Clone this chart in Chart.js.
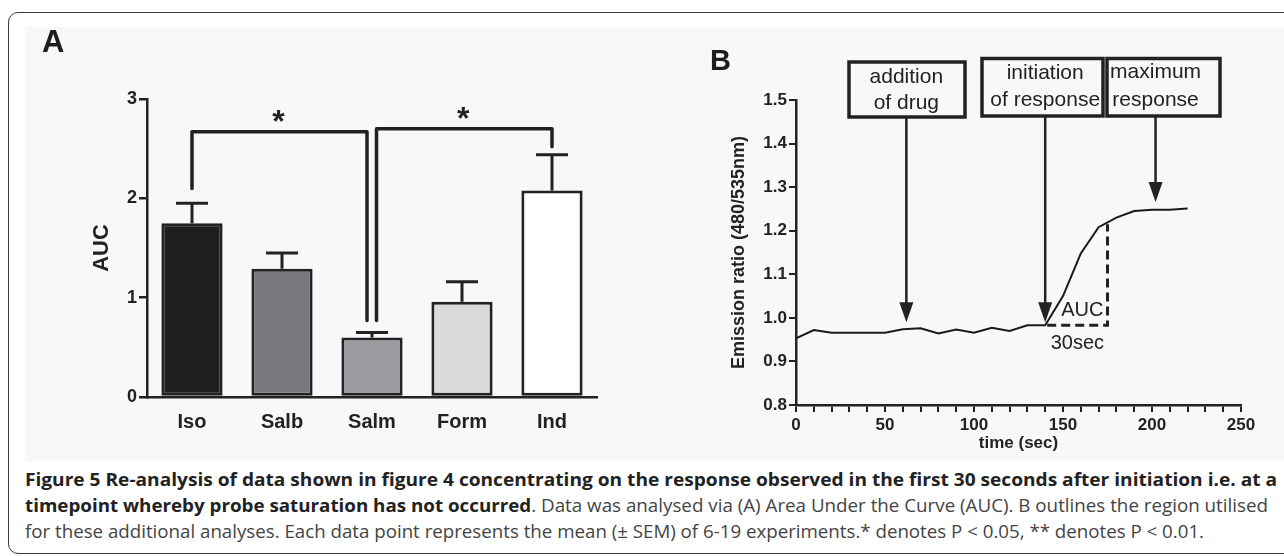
<!DOCTYPE html>
<html>
<head>
<meta charset="utf-8">
<title>Figure 5</title>
<script src="https://cdn.jsdelivr.net/npm/chart.js@4.4.1/dist/chart.umd.min.js"></script>
<style>
	html, body { margin: 0; padding: 0; background: #fff; }
	#wrap { position: relative; width: 1284px; height: 556px; overflow: hidden; font-family: 'Liberation Sans', Arial, sans-serif; }
	#frame { position: absolute; left: 8px; top: 12px; width: 1320px; height: 542px; border: 1.5px solid #3a3a3a; border-radius: 10px; box-sizing: border-box; }
	#panel { position: absolute; left: 25px; top: 27px; width: 1259px; height: 434px; background: #f7f8fa; }
	#chartA { position: absolute; left: 0; top: 0; }
	#chartB { position: absolute; left: 640px; top: 0; }
	.tag { position: absolute; font-weight: bold; color: #1e1e1e; line-height: 1; }
	.cap { position: absolute; left: 25px; white-space: nowrap; font-family: 'Open Sans', 'Noto Sans', sans-serif; font-size: 18px; line-height: 18px; color: #444; transform-origin: 0 0; }
	.cap b { color: #222; font-weight: 700; }
</style>
</head>
<body>
<div id="wrap">
	<div id="frame"></div>
	<div id="panel"></div>
	<canvas id="chartA" width="640" height="460"></canvas>
	<canvas id="chartB" width="644" height="460"></canvas>
	<div class="tag" style="left:42px; top:26px; font-size:31px;">A</div>
	<div class="tag" style="left:710px; top:46px; font-size:29px;">B</div>
	<div class="cap" id="cap1" data-w="1252" style="top:470px;"><b>Figure 5 Re-analysis of data shown in figure 4 concentrating on the response observed in the first 30 seconds after initiation i.e. at a</b></div>
	<div class="cap" id="cap2" data-w="1243" style="top:496px;"><b>timepoint whereby probe saturation has not occurred</b>. Data was analysed via (A) Area Under the Curve (AUC). B outlines the region utilised</div>
	<div class="cap" id="cap3" data-w="1179" style="top:522px;">for these additional analyses. Each data point represents the mean (± SEM) of 6-19 experiments.* denotes P &lt; 0.05, ** denotes P &lt; 0.01.</div>
</div>

<script>
// Panel A - area under the curve per agonist
var categories = ['Iso', 'Salb', 'Salm', 'Form', 'Ind'];
var aucMean = [1.75, 1.29, 0.60, 0.96, 2.08];
var aucSem = [0.20, 0.16, 0.05, 0.20, 0.36];
var barColors = ['#1f1f1f', '#77787b', '#9a9b9e', '#d9dadb', '#ffffff'];
var aucTicks = [0, 1, 2, 3];

// significance brackets (category index, levels in AUC units)
var sigFrom = [0, 2];
var sigTo = [2, 4];
var sigLevel = [2.67, 2.70];
var sigStartLeg = [2.10, 0.77];
var sigEndLeg = [0.77, 2.52];

// Panel B - example trace
var timeSec = [0, 10, 20, 30, 40, 50, 60, 70, 80, 90, 100, 110, 120, 130, 140, 150, 160, 170, 180, 190, 200, 210, 220];
var emissionRatio = [0.953, 0.972, 0.966, 0.966, 0.966, 0.966, 0.974, 0.976, 0.964, 0.973, 0.966, 0.977, 0.970, 0.983, 0.983, 1.050, 1.148, 1.208, 1.230, 1.245, 1.248, 1.248, 1.251];
var ratioTicks = [0.8, 0.9, 1.0, 1.1, 1.2, 1.3, 1.4, 1.5];
var timeTicks = [0, 50, 100, 150, 200, 250];

var eventLabels = [['addition', 'of drug'], ['initiation', 'of response'], ['maximum', 'response']];
var eventTime = [62, 140, 202];
var eventTip = [0.990, 0.990, 1.266];
var aucWindow = [140, 175];
var aucBase = 0.983;
var aucTop = 1.215;

var FONT = "'Liberation Sans', Arial, sans-serif";
var INK = '#222';

Chart.defaults.font.family = FONT;
Chart.defaults.color = INK;
Chart.defaults.animation = false;
Chart.defaults.plugins.legend.display = false;
Chart.defaults.plugins.tooltip.enabled = false;

var errorBarPlugin = {
	id: 'errorBars',
	afterDatasetsDraw: function(chart) {
		var ctx = chart.ctx, y = chart.scales.y, x = chart.scales.x;
		var meta = chart.getDatasetMeta(0);
		ctx.save();
		ctx.strokeStyle = INK;
		ctx.lineWidth = 3;
		meta.data.forEach(function(bar, i) {
			var top = y.getPixelForValue(aucMean[i] + aucSem[i]);
			ctx.beginPath();
			ctx.moveTo(bar.x, bar.y);
			ctx.lineTo(bar.x, top);
			ctx.moveTo(bar.x - 16, top);
			ctx.lineTo(bar.x + 16, top);
			ctx.stroke();
		});

		// brackets
		ctx.lineWidth = 3.5;
		ctx.lineJoin = 'round';
		ctx.lineCap = 'round';
		for (var k = 0; k < sigFrom.length; k++) {
			var x1 = x.getPixelForValue(sigFrom[k]) + (sigFrom[k] === 2 ? 4.5 : 0);
			var x2 = x.getPixelForValue(sigTo[k]) - (sigTo[k] === 2 ? 5 : 0);
			var yl = y.getPixelForValue(sigLevel[k]);
			ctx.beginPath();
			ctx.moveTo(x1, y.getPixelForValue(sigStartLeg[k]));
			ctx.lineTo(x1, yl);
			ctx.lineTo(x2, yl);
			ctx.lineTo(x2, y.getPixelForValue(sigEndLeg[k]));
			ctx.stroke();
			ctx.fillStyle = INK;
			ctx.font = 'bold 32px ' + FONT;
			ctx.textAlign = 'center';
			ctx.textBaseline = 'alphabetic';
			ctx.fillText('*', (x1 + x2) / 2 - 1, yl);
		}
		ctx.restore();
	}
};

var annotationPlugin = {
	id: 'traceNotes',
	afterDraw: function(chart) {
		var ctx = chart.ctx, x = chart.scales.x, y = chart.scales.y;
		// box rectangles (canvas px)
		var boxes = [[209, 62, 116, 55], [342, 58.5, 121, 57.5], [467, 58.5, 113, 57.5]];
		var textY = [[77, 103], [73, 100], [72, 100]];
		ctx.save();
		ctx.strokeStyle = INK;
		ctx.fillStyle = INK;
		ctx.lineWidth = 3.5;
		ctx.font = '21px ' + FONT;
		ctx.textAlign = 'center';
		ctx.textBaseline = 'middle';
		for (var i = 0; i < eventTime.length; i++) {
			var b = boxes[i];
			ctx.strokeRect(b[0], b[1], b[2], b[3]);
			var ax = x.getPixelForValue(eventTime[i]);
			ctx.fillText(eventLabels[i][0], ax, textY[i][0]);
			ctx.fillText(eventLabels[i][1], ax, textY[i][1]);
			var tip = y.getPixelForValue(eventTip[i]);
			ctx.lineWidth = 2.5;
			ctx.beginPath();
			ctx.moveTo(ax, b[1] + b[3]);
			ctx.lineTo(ax, tip - 16);
			ctx.stroke();
			ctx.beginPath();
			ctx.moveTo(ax - 7, tip - 20);
			ctx.lineTo(ax + 7, tip - 20);
			ctx.lineTo(ax, tip);
			ctx.closePath();
			ctx.fill();
			ctx.lineWidth = 3.5;
		}

		// AUC window
		var xs = x.getPixelForValue(aucWindow[0]);
		var xe = x.getPixelForValue(aucWindow[1]);
		var yb = y.getPixelForValue(aucBase);
		var yt = y.getPixelForValue(aucTop);
		ctx.lineWidth = 3;
		ctx.setLineDash([9, 5]);
		ctx.beginPath();
		ctx.moveTo(xs + 2, yb);
		ctx.lineTo(xe, yb);
		ctx.lineTo(xe, yt);
		ctx.stroke();
		ctx.setLineDash([]);
		ctx.font = '20px ' + FONT;
		ctx.textAlign = 'right';
		ctx.fillText('AUC', xe - 4, yb - 15);
		ctx.textAlign = 'center';
		ctx.fillText('30sec', (xs + xe) / 2 + 1, yb + 18);
		ctx.restore();
	}
};

var chartA = new Chart(document.getElementById('chartA'), {
	type: 'bar',
	data: {
		labels: categories,
		datasets: [{
			data: aucMean,
			backgroundColor: barColors,
			borderColor: INK,
			borderWidth: 3,
			borderSkipped: false,
			barPercentage: 0.68,
			categoryPercentage: 1
		}]
	},
	options: {
		responsive: false,
		layout: { padding: { left: 85, top: 99, right: 43, bottom: 13 } },
		scales: {
			x: {
				grid: { display: false, drawTicks: false },
				border: { display: true, color: INK, width: 2.5 },
				ticks: { padding: 13, font: { size: 20, weight: 'bold' }, color: INK },
				afterFit: function(s) { s.height = 50; }
			},
			y: {
				min: 0,
				max: 3,
				afterBuildTicks: function(s) { s.ticks = aucTicks.map(function(v) { return { value: v }; }); },
				grid: { drawOnChartArea: false, tickLength: 8, lineWidth: 2.5, color: INK },
				border: { display: true, color: INK, width: 2.5 },
				ticks: { padding: 2, font: { size: 18, weight: 'bold' }, color: INK },
				title: { display: true, text: 'AUC', font: { size: 22, weight: 'bold' }, color: INK },
				afterFit: function(s) { s.width = 62; }
			}
		}
	},
	plugins: [errorBarPlugin]
});

var chartB = new Chart(document.getElementById('chartB'), {
	type: 'line',
	data: {
		datasets: [{
			data: timeSec.map(function(t, i) { return { x: t, y: emissionRatio[i] }; }),
			borderColor: '#1a1a1a',
			borderWidth: 2,
			pointRadius: 0,
			tension: 0
		}]
	},
	options: {
		responsive: false,
		layout: { padding: { left: 84, top: 100, right: 43, bottom: 0 } },
		scales: {
			x: {
				type: 'linear',
				min: 0,
				max: 250,
				ticks: {
					stepSize: 10,
					autoSkip: false,
					maxRotation: 0,
					padding: 3,
					font: { size: 17, weight: 'bold' },
					color: INK,
					callback: function(v) { return timeTicks.indexOf(v) >= 0 ? String(v) : ''; }
				},
				grid: { drawOnChartArea: false, tickLength: 7, lineWidth: 2, color: INK },
				border: { display: true, color: INK, width: 2.5 },
				title: { display: true, text: 'time (sec)', font: { size: 17, weight: 'bold' }, color: INK, padding: { top: 0, bottom: 6 } },
				afterFit: function(s) { s.height = 55; }
			},
			y: {
				min: 0.8,
				max: 1.5,
				afterBuildTicks: function(s) { s.ticks = ratioTicks.map(function(v) { return { value: v }; }); },
				ticks: { padding: 2, font: { size: 17, weight: 'bold' }, color: INK, callback: function(v) { return v.toFixed(1); } },
				grid: { drawOnChartArea: false, tickLength: 7, lineWidth: 2, color: INK },
				border: { display: true, color: INK, width: 2.5 },
				title: { display: true, text: 'Emission ratio (480/535nm)', font: { size: 18, weight: 'bold' }, color: INK },
				afterFit: function(s) { s.width = 72; }
			}
		}
	},
	plugins: [annotationPlugin]
});

// squeeze caption lines to the printed line widths
var fitCaption = function() {
	['cap1', 'cap2', 'cap3'].forEach(function(id) {
		var el = document.getElementById(id);
		el.style.transform = 'none';
		var w = el.getBoundingClientRect().width;
		el.style.transform = 'scaleX(' + (parseFloat(el.getAttribute('data-w')) / w) + ')';
	});
};
fitCaption();
if (document.fonts) document.fonts.ready.then(fitCaption);
</script>
</body>
</html>
